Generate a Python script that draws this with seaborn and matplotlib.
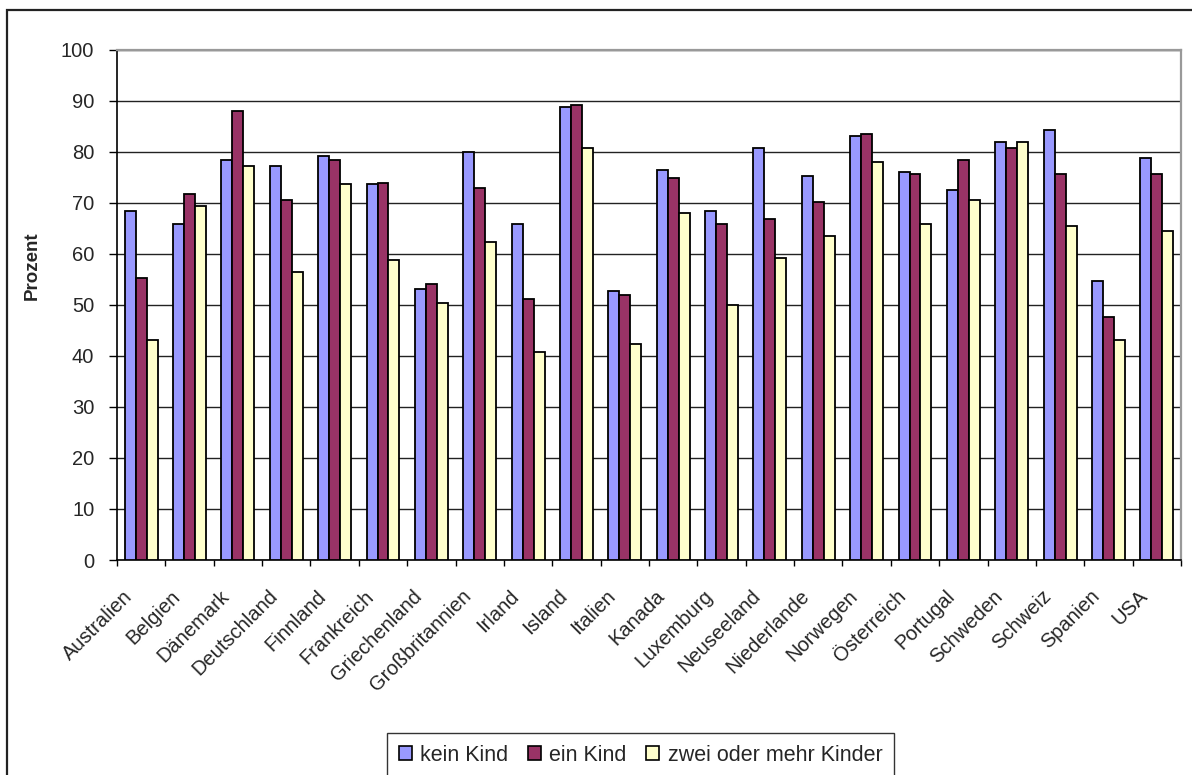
import matplotlib
matplotlib.use("Agg")
import matplotlib.pyplot as plt
from matplotlib.patches import Rectangle
from matplotlib.ticker import FixedLocator
from matplotlib.transforms import ScaledTranslation
import numpy as np
import pandas as pd
import seaborn as sns

# Erwerbsquote von Müttern nach Kinderzahl
laender = ["Australien", "Belgien", "Dänemark", "Deutschland", "Finnland", "Frankreich",
           "Griechenland", "Großbritannien", "Irland", "Island", "Italien", "Kanada",
           "Luxemburg", "Neuseeland", "Niederlande", "Norwegen", "Österreich", "Portugal",
           "Schweden", "Schweiz", "Spanien", "USA"]
kein_kind = [68.5, 65.9, 78.5, 77.3, 79.3, 73.7, 53.2, 80.0, 65.9, 88.9, 52.8, 76.5,
             68.5, 80.8, 75.3, 83.1, 76.1, 72.5, 82.0, 84.3, 54.7, 78.9]
ein_kind = [55.2, 71.7, 88.1, 70.5, 78.5, 74.0, 54.1, 72.9, 51.2, 89.3, 52.0, 74.9,
            65.9, 66.9, 70.1, 83.5, 75.7, 78.5, 80.8, 75.7, 47.6, 75.7]
zwei_mehr = [43.2, 69.4, 77.3, 56.5, 73.7, 58.9, 50.4, 62.4, 40.7, 80.8, 42.4, 68.1,
             50.0, 59.3, 63.5, 78.1, 65.9, 70.5, 82.0, 65.4, 43.2, 64.6]
serien = ["kein Kind", "ein Kind", "zwei oder mehr Kinder"]
farben = ["#9999FF", "#993366", "#FFFFCC"]
y_ticks = list(range(0, 101, 10))

df = pd.DataFrame({
    "Land": laender * 3,
    "Gruppe": [serien[0]] * len(laender) + [serien[1]] * len(laender) + [serien[2]] * len(laender),
    "Prozent": kein_kind + ein_kind + zwei_mehr,
})

sns.set_style("white")
plt.rcParams["font.family"] = ["Liberation Sans", "DejaVu Sans"]

W, H = 1192, 775
fig = plt.figure(figsize=(W / 100, H / 100), dpi=100)
ax = fig.add_axes([117 / W, 1 - 560 / H, (1181 - 117) / W, (560 - 50) / H])

sns.barplot(data=df, x="Land", y="Prozent", hue="Gruppe", hue_order=serien,
            palette=farben, order=laender, width=0.68, gap=0, saturation=1,
            edgecolor="black", linewidth=1.3, errorbar=None, ax=ax, zorder=3)

ax.set_xlim(-0.5, len(laender) - 0.5)
ax.set_ylim(0, 100)
ax.set_yticks(y_ticks)
ax.yaxis.grid(True, color="#222222", linewidth=1.0, zorder=0)
ax.set_axisbelow(True)

# Kategorie-Trennstriche an den Gruppengrenzen
ax.xaxis.set_minor_locator(FixedLocator(np.arange(-0.5, len(laender), 1.0)))
ax.tick_params(axis="x", which="major", length=0, pad=24)
ax.tick_params(axis="x", which="minor", length=4.3, width=1, color="black", direction="out", bottom=True)
ax.tick_params(axis="y", length=5.8, width=1, color="black", direction="out", left=True,
               labelsize=14.5, pad=10.5)
ax.set_xticks(range(len(laender)))
ax.set_xticklabels(laender, rotation=45, ha="right", va="center", rotation_mode="anchor", fontsize=14.5)
shift = ScaledTranslation(-12 / 100, 0, fig.dpi_scale_trans)
for lbl in ax.get_xticklabels():
    lbl.set_transform(lbl.get_transform() + shift)

ax.set_xlabel("")
ax.set_ylabel("Prozent", fontsize=13.5, fontweight="bold")
ax.yaxis.set_label_coords((41 - 117) / (1181 - 117), (560 - 266) / (560 - 50))

for side in ["left", "bottom"]:
    ax.spines[side].set_color("black")
    ax.spines[side].set_linewidth(1.2)
for side in ["top", "right"]:
    ax.spines[side].set_color("#999999")
    ax.spines[side].set_linewidth(1.6)
    ax.spines[side].set_visible(True)

ax.get_legend().remove()
handles = [Rectangle((0, 0), 1, 1, facecolor=c, edgecolor="black", linewidth=1.2) for c in farben]
leg = fig.legend(handles, serien, loc="upper left", bbox_to_anchor=(387 / W, 1 - 733 / H),
                 ncol=3, frameon=True, fancybox=False, fontsize=15.5, handlelength=0.6,
                 handleheight=0.6, handletextpad=0.4, columnspacing=0.9, borderpad=0.55,
                 borderaxespad=0)
leg.get_frame().set_edgecolor("black")
leg.get_frame().set_linewidth(1.0)

# Rahmen um das gesamte Diagramm
fig.patches.append(Rectangle((7 / W, -0.1), 1.2, 1 - 10 / H + 0.1, transform=fig.transFigure,
                             fill=False, edgecolor="#222222", linewidth=1.6))

fig.savefig("out.png", dpi=100, facecolor="white")
